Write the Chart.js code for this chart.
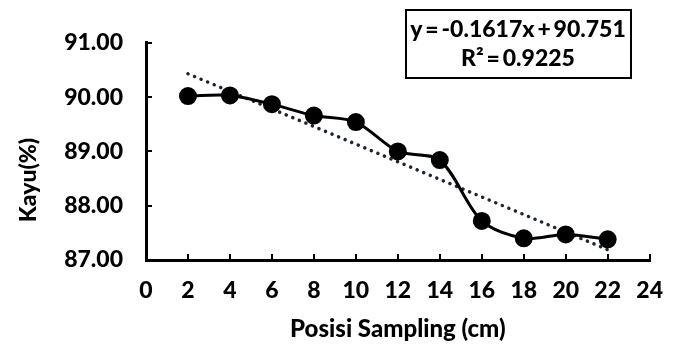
<!DOCTYPE html>
<html>
<head>
<meta charset="utf-8">
<script src="https://cdn.jsdelivr.net/npm/chart.js@4"></script>
<style>
  html, body { margin: 0; padding: 0; background: #fff; }
  #wrap { width: 686px; height: 345px; }
</style>
</head>
<body>
<div id="wrap"><canvas id="kayu-chart" width="686" height="345"></canvas></div>
<script>
// posisi sampling (cm) dan kadar kayu (%)
const posisi = [2, 4, 6, 8, 10, 12, 14, 16, 18, 20, 22];
const kayu = [90.02, 90.03, 89.87, 89.66, 89.54, 89.00, 88.84, 87.72, 87.40, 87.47, 87.38];

// garis trend (linear), ujung kiri dan kanan
const trendX = [2, 22];
const trendY = [90.43, 87.19];

const persamaan = 'y\u2009=\u2009-0.1617x\u2009+\u200990.751';
const rKuadrat = 'R\u00B2\u2009=\u20090.9225';

const FONT = 'Lato, "Open Sans", sans-serif';

const boxPlugin = {
  id: 'eqBox',
  afterDraw(chart) {
    const c = chart.ctx;
    c.save();
    // judul sumbu Y
    c.font = `900 23px ${FONT}`;
    c.fillStyle = '#000';
    c.textAlign = 'center';
    c.textBaseline = 'middle';
    c.translate(29, 180);
    c.rotate(-Math.PI / 2);
    c.fillText('Kayu(%)', 0, 0);
    c.restore();

    // kotak persamaan
    c.save();
    c.fillStyle = '#fff';
    c.fillRect(406, 10, 225, 68);
    c.strokeStyle = '#000';
    c.lineWidth = 2;
    c.strokeRect(406, 10, 225, 68);
    c.fillStyle = '#000';
    c.font = `900 23px ${FONT}`;
    c.textAlign = 'center';
    c.textBaseline = 'middle';
    c.fillText(persamaan, 518, 30);
    c.fillText(rKuadrat, 518, 59);
    c.restore();
  }
};

function initChart() {
  const ctx = document.getElementById('kayu-chart');

  new Chart(ctx, {
    type: 'scatter',
    data: {
      datasets: [{
        label: 'Kayu',
        data: posisi.map((x, i) => ({ x, y: kayu[i] })),
        showLine: true,
        borderColor: '#000',
        backgroundColor: '#000',
        borderWidth: 3,
        tension: 0.3,
        pointRadius: 7.5,
        pointBackgroundColor: '#000',
        pointBorderColor: '#000',
        order: 1,
      }, {
        label: 'Linear',
        data: trendX.map((x, i) => ({ x, y: trendY[i] })),
        showLine: true,
        borderColor: '#1c2530',
        borderWidth: 3.5,
        borderDash: [0.1, 7],
        borderCapStyle: 'round',
        pointRadius: 0,
        order: 2,
      }]
    },
    options: {
      responsive: false,
      animation: false,
      layout: { padding: { top: 36, right: 26, left: 0, bottom: 0 } },
      plugins: {
        legend: { display: false },
        tooltip: { enabled: false }
      },
      scales: {
        x: {
          type: 'linear',
          min: 0,
          max: 24,
          afterFit: (s) => { s.height = 85; },
          border: { color: '#000', width: 3 },
          grid: { drawOnChartArea: false, color: '#000', lineWidth: 2, tickLength: -6 },
          ticks: {
            stepSize: 2,
            color: '#000',
            padding: 23,
            font: { family: FONT, size: 23, weight: '900' }
          },
          title: {
            display: true,
            text: 'Posisi Sampling (cm)',
            color: '#000',
            padding: { top: 0, bottom: 1 },
            font: { family: FONT, size: 24, weight: '900' }
          }
        },
        y: {
          min: 87,
          max: 91,
          afterFit: (s) => { s.width = 146; },
          border: { color: '#000', width: 3 },
          grid: { drawOnChartArea: false, color: '#000', lineWidth: 2, tickLength: -6 },
          ticks: {
            stepSize: 1,
            color: '#000',
            padding: 29,
            font: { family: FONT, size: 23, weight: '900' },
            callback: (v) => v.toFixed(2)
          }
        }
      }
    },
    plugins: [boxPlugin]
  });
}

window.addEventListener('DOMContentLoaded', initChart);
</script>
</body>
</html>
